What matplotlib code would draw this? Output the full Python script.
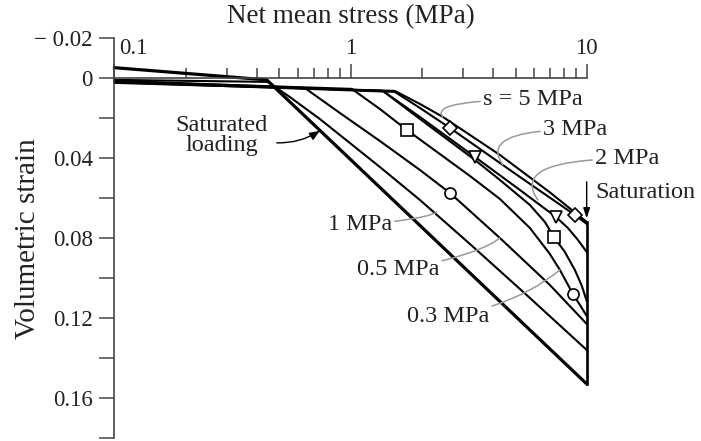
import matplotlib
matplotlib.use("Agg")
import matplotlib.pyplot as plt
from matplotlib.ticker import FixedLocator, NullFormatter
from matplotlib.transforms import ScaledTranslation

plt.rcParams['font.family'] = ['Liberation Serif', 'DejaVu Serif']

# Compression paths: net mean stress p (MPa) and volumetric strain
sat_p = [0.1, 0.4415, 10.0]
sat_e = [-0.0053, 0.0008, 0.1528]

s1_p = [0.1, 0.446, 0.552, 0.740, 0.992, 1.329, 1.965, 3.20, 5.744, 10.0]
s1_e = [0.0008, 0.0018, 0.0093, 0.0203, 0.0323, 0.0443, 0.0608, 0.0828, 0.1098, 0.1358]

s05_p = [0.1, 0.639, 0.90, 1.329, 1.965, 2.633, 4.287, 6.98, 10.0]
s05_e = [0.0012, 0.0048, 0.0173, 0.0313, 0.0458, 0.0573, 0.0798, 0.1033, 0.1228]

s03_p = [0.1, 1.012, 1.329, 1.73, 3.20, 4.287, 5.744, 6.98, 7.70, 8.74, 9.36, 10.0]
s03_e = [0.0015, 0.0053, 0.0153, 0.0258, 0.0488, 0.0603, 0.0748, 0.0878, 0.0958,
         0.1078, 0.1133, 0.1188]

mid_p = [0.1, 1.369, 1.965, 3.36, 4.287, 5.744, 6.65, 7.26, 8.08, 8.91, 9.54, 10.0]
mid_e = [0.0017, 0.0063, 0.0203, 0.0408, 0.0508, 0.0633, 0.0718, 0.0793, 0.0868,
         0.0958, 0.1038, 0.1113]

s2_p = [0.1, 1.369, 1.965, 3.36, 5.21, 7.405, 8.32, 9.18, 10.0]
s2_e = [0.0018, 0.0063, 0.0193, 0.0393, 0.0558, 0.0693, 0.0748, 0.0808, 0.0868]

s3_p = [0.1, 1.539, 1.965, 2.633, 5.21, 8.91, 10.0]
s3_e = [0.0020, 0.0068, 0.0148, 0.0248, 0.0493, 0.0683, 0.0728]

s5_p = [0.1, 1.539, 1.965, 2.459, 4.287, 6.98, 10.0]
s5_e = [0.0023, 0.0063, 0.0128, 0.0193, 0.0383, 0.0570, 0.0718]

paths = [(s1_p, s1_e), (s05_p, s05_e), (s03_p, s03_e), (mid_p, mid_e),
         (s2_p, s2_e), (s3_p, s3_e), (s5_p, s5_e)]

# Saturation (wetting) at p = 10 MPa
wet_p = [10.0, 10.0]
wet_e = [0.0718, 0.1528]

# Marker positions
dia_p, dia_e = [2.633, 8.91], [0.0248, 0.0683]
tri_p, tri_e = [3.36, 7.405], [0.0393, 0.0693]
sq_p, sq_e = [1.73, 7.26], [0.0258, 0.0793]
cir_p, cir_e = [2.633, 8.74], [0.0573, 0.1078]

ytick_major = [-0.02, 0.0, 0.04, 0.08, 0.12, 0.16]
ytick_labels = ['\u2212 0.02', '0', '0.04', '0.08', '0.12', '0.16']
ytick_minor = [0.02, 0.06, 0.10, 0.14, 0.18]
xtick_major = [0.1, 1, 10]
xtick_labels = ['0.1', '1', '10']

fig = plt.figure(figsize=(7.01, 4.41), dpi=100)
ax = fig.add_axes([0.1633, 0.0061, 0.6736, 0.9071])
ax.set_xscale('log')
ax.set_xlim(0.1, 10)
ax.set_ylim(0.18, -0.02)

axis_col = '#444444'
text_col = '#222222'
for side in ('right', 'bottom'):
    ax.spines[side].set_visible(False)
ax.spines['top'].set_position(('data', 0))
for side in ('top', 'left'):
    ax.spines[side].set_color(axis_col)
    ax.spines[side].set_linewidth(1.2)

ax.xaxis.set_ticks_position('top')
ax.set_xticks(xtick_major)
ax.set_xticklabels(xtick_labels)
ax.xaxis.set_minor_formatter(NullFormatter())
ax.tick_params(axis='x', which='major', direction='out', length=10, width=1.1,
               color=axis_col, labelsize=16.5, pad=4, labelcolor=text_col)
ax.tick_params(axis='x', which='minor', direction='out', length=7, width=1.1,
               color=axis_col)
first = ax.get_xticklabels()[0]
first.set_horizontalalignment('left')
first.set_transform(first.get_transform() + ScaledTranslation(3 / 72, 0, fig.dpi_scale_trans))

ax.yaxis.set_major_locator(FixedLocator(ytick_major))
ax.set_yticklabels(ytick_labels)
ax.yaxis.set_minor_locator(FixedLocator(ytick_minor))
ax.tick_params(axis='y', which='both', direction='out', length=10.5, width=1.1,
               color=axis_col, labelsize=16.5, pad=5, labelcolor=text_col)

ax.set_xlabel('Net mean stress (MPa)', fontsize=19.5, color=text_col)
ax.xaxis.set_label_position('top')
ax.xaxis.set_label_coords(0.5, 1.053)
ax.xaxis.label.set_verticalalignment('center')
ax.set_ylabel('Volumetric strain', fontsize=21, color=text_col)
ax.yaxis.set_label_coords(-0.183, 0.5)
ax.yaxis.label.set_verticalalignment('center')

for p, e in paths:
    ax.plot(p, e, color='black', lw=1.5, solid_joinstyle='round', clip_on=False)
ax.plot(sat_p, sat_e, color='black', lw=2.3, solid_joinstyle='round', clip_on=False)
ax.plot(wet_p, wet_e, color='black', lw=1.9, clip_on=False)

mk = dict(color='black', mfc='white', mec='black', mew=1.2, ls='none', clip_on=False, zorder=5)
ax.plot(dia_p, dia_e, marker='D', ms=7.5, **mk)
ax.plot(tri_p, tri_e, marker='v', ms=8.5, **mk)
ax.plot(sq_p, sq_e, marker='s', ms=8, **mk)
ax.plot(cir_p, cir_e, marker='o', ms=8, **mk)

lead = dict(arrowstyle='-', color='#999999', lw=1.1, shrinkA=0, shrinkB=0)
txt = dict(fontsize=17.5, color=text_col, va='center', ha='left')

ax.annotate('s = 5 MPa', xy=(2.459, 0.0193), xytext=(3.633, 0.0108), **txt,
            arrowprops=dict(connectionstyle='angle3,angleA=0,angleB=-50', **lead))
ax.annotate('3 MPa', xy=(4.415, 0.0433), xytext=(6.52, 0.0258), **txt,
            arrowprops=dict(connectionstyle='angle3,angleA=0,angleB=-55', **lead))
ax.annotate('2 MPa', xy=(6.21, 0.0608), xytext=(10.83, 0.0403), **txt,
            arrowprops=dict(connectionstyle='angle3,angleA=0,angleB=-55', **lead))
ax.annotate('1 MPa', xy=(2.317, 0.0668), xytext=(0.80, 0.0733), **txt,
            arrowprops=dict(connectionstyle='angle3,angleA=5,angleB=40', **lead))
ax.annotate('0.5 MPa', xy=(4.287, 0.0798), xytext=(1.062, 0.0958), **txt,
            arrowprops=dict(connectionstyle='angle3,angleA=10,angleB=40', **lead))
ax.annotate('0.3 MPa', xy=(7.70, 0.0958), xytext=(1.73, 0.1193), **txt,
            arrowprops=dict(connectionstyle='angle3,angleA=10,angleB=40', **lead))

ax.text(0.285, 0.0288, 'Saturated\nloading', fontsize=17.5, color=text_col,
        ha='center', va='center', linespacing=0.95)
ax.annotate('', xy=(0.7404, 0.0263), xytext=(0.4867, 0.0323),
            arrowprops=dict(arrowstyle='-|>,head_length=0.6,head_width=0.25',
                            color='black', lw=1.0, shrinkA=0, shrinkB=0,
                            connectionstyle='arc3,rad=0.15'))

ax.text(10.88, 0.0573, 'Saturation', **txt)
ax.annotate('', xy=(10.0, 0.0700), xytext=(10.0, 0.0518),
            arrowprops=dict(arrowstyle='-|>,head_length=0.6,head_width=0.2',
                            color='black', lw=1.0, shrinkA=0, shrinkB=0))

fig.savefig('out.png', dpi=100)
